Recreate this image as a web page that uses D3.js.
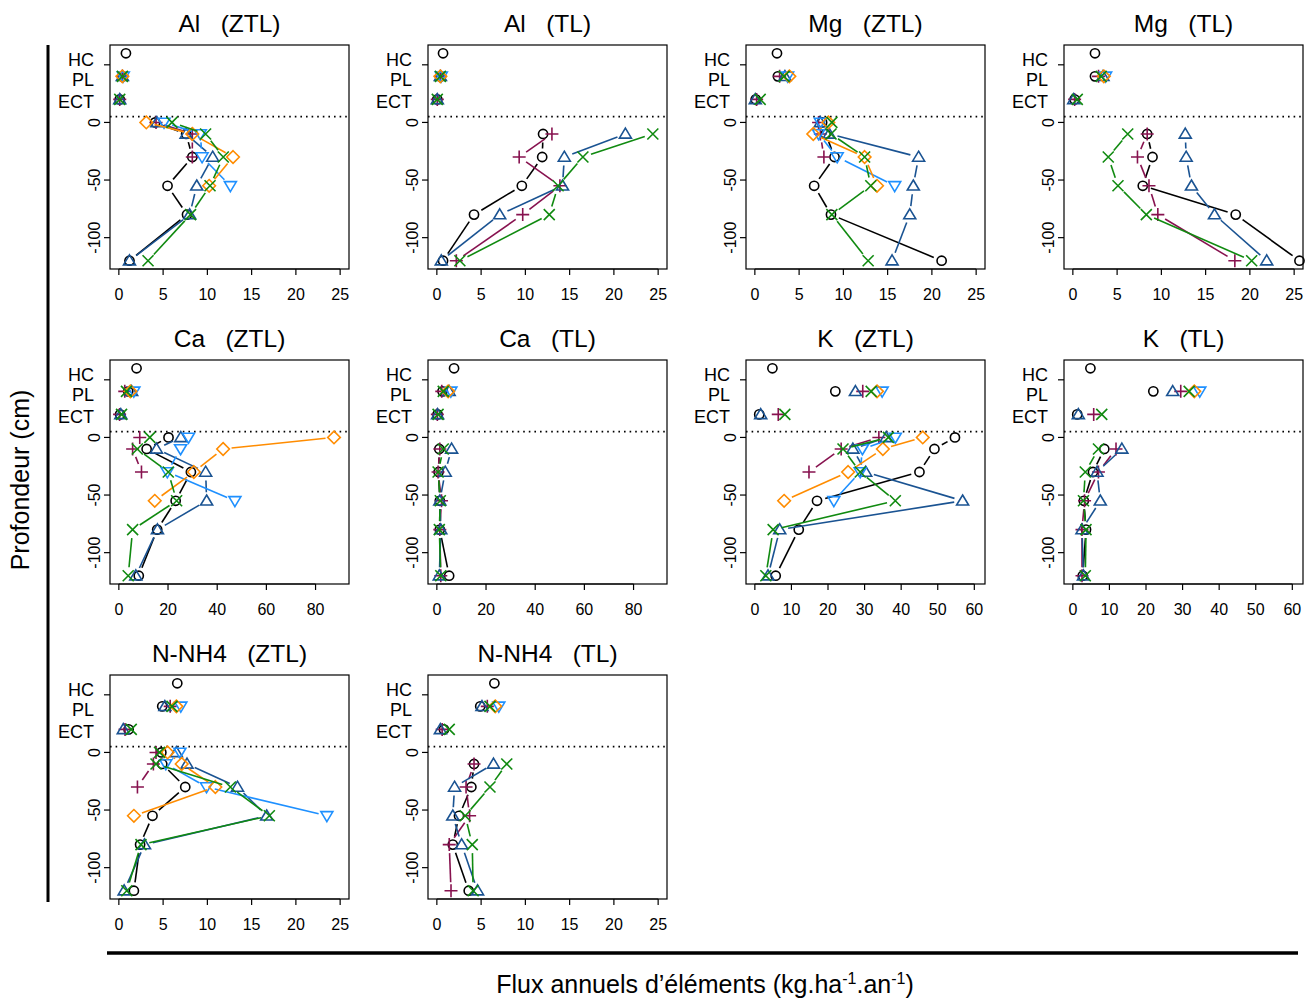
<!DOCTYPE html>
<meta charset="utf-8">
<head>
    <title>Flux annuels</title>
</head>
<style>
body { margin: 0; background: #fff; }
text { font-family: "Liberation Sans", Arial, sans-serif; fill: #000; }
.box { fill: none; stroke: #000; stroke-width: 1.2; }
.tick { stroke: #000; stroke-width: 1.2; }
.seg { fill: none; stroke-width: 1.6; }
.mark { fill: none; stroke-width: 1.6; }
</style>
<body>
<script src="https://cdn.jsdelivr.net/npm/d3@7"></script>
<script>

// depth levels (cm) for the soil profile, and the litter layers above
var depthLevels = [0, -10, -30, -55, -80, -120];
var layerNames = ["HC", "PL", "ECT"];
var layerDepths = [60, 40, 20];
var layerLabelDepths = [55, 37, 18];
var yTicks = [50, 0, -50, -100];
var yTickLabels = ["", "0", "-50", "-100"];

var ticks25 = [0, 5, 10, 15, 20, 25];
var ticks80 = [0, 20, 40, 60, 80];
var ticks60 = [0, 10, 20, 30, 40, 50, 60];

var seriesColors = ["#000000", "#87124f", "#1a5392", "#1e90ff", "#ff8c00", "#108a10"];
var seriesShapes = ["circle", "plus", "triangle", "triangleDown", "diamond", "cross"];

// each row : one series ; columns : HC, PL, ECT, 0, -10, -30, -55, -80, -120
var al_ZTL = [
  [0.8, 0.4, 0.1, 4.1, 7.6, 8.3, 5.5, 7.7, 1.2],
  [null, 0.4, 0.1, 4.2, 8.3, 8.3, null, null, null],
  [null, 0.4, 0.1, 4.3, 7.6, 10.6, 8.8, 8.0, 1.2],
  [null, 0.5, null, 5.1, 9.2, 9.4, 12.6, null, null],
  [null, 0.4, null, 3.1, 8.3, 12.9, 10.2, null, null],
  [null, 0.4, 0.1, 6.0, 9.8, 11.8, 10.3, 8.1, 3.3]
];
var al_TL = [
  [0.7, 0.4, 0.05, null, 12.0, 11.9, 9.6, 4.2, 0.7],
  [null, 0.4, 0.05, null, 13.0, 9.3, 13.9, 9.7, 2.2],
  [null, 0.4, 0.05, null, 21.3, 14.4, 14.2, 7.1, 0.5],
  [null, 0.5, null, null, null, null, null, null, null],
  [null, 0.4, null, null, null, null, null, null, null],
  [null, 0.4, 0.05, null, 24.4, 16.5, 13.7, 12.7, 2.6]
];
var mg_ZTL = [
  [2.5, 2.6, 0.1, 7.6, 8.0, 9.0, 6.7, 8.6, 21.1],
  [null, 2.8, 0.2, 7.2, 7.4, 7.8, null, null, null],
  [null, 3.4, 0.05, 7.4, 8.4, 18.5, 17.9, 17.5, 15.5],
  [null, 3.7, null, 7.4, 7.2, 9.3, 15.8, null, null],
  [null, 3.9, null, 8.3, 6.6, 12.4, 13.8, null, null],
  [null, 3.3, 0.6, 8.7, 8.6, 12.4, 13.1, 8.7, 12.8]
];
var mg_TL = [
  [2.5, 2.5, 0.2, null, 8.4, 9.0, 7.9, 18.4, 25.6],
  [null, 2.9, 0.2, null, 8.4, 7.3, 8.6, 9.6, 18.3],
  [null, 3.4, 0.1, null, 12.7, 12.8, 13.4, 16.0, 21.9],
  [null, 3.7, null, null, null, null, null, null, null],
  [null, 3.5, null, null, null, null, null, null, null],
  [null, 3.2, 0.5, null, 6.2, 4.0, 5.1, 8.3, 20.2]
];
var ca_ZTL = [
  [7.2, 3.8, 0.5, 20.2, 11.3, 29.3, 23.1, 15.6, 8.1],
  [null, 2.4, 0.3, 8.5, 5.6, 9.2, null, null, null],
  [null, 5.2, 0.8, 25.2, 15.3, 35.3, 35.7, 15.7, 6.9],
  [null, 6.1, null, 28.3, 25.1, 19.7, 47.2, null, null],
  [null, 4.7, null, 87.5, 42.4, 30.5, 14.6, null, null],
  [null, 3.1, 1.1, 12.6, 7.5, 20.1, 23.5, 5.6, 3.8]
];
var ca_TL = [
  [7.0, 2.3, 0.3, null, 1.0, 0.7, 1.2, 1.2, 5.0],
  [null, 2.0, 0.2, null, 1.2, 0.5, 1.9, 1.2, 1.6],
  [null, 5.0, 0.3, null, 6.0, 3.4, 1.2, 1.6, 1.0],
  [null, 5.7, null, null, null, null, null, null, null],
  [null, 4.6, null, null, null, null, null, null, null],
  [null, 2.6, 0.5, null, 2.6, 0.5, 1.4, 1.0, 1.6]
];
var k_ZTL = [
  [4.8, 22.0, 1.2, 54.7, 49.1, 45.0, 17.0, 12.0, 5.7],
  [null, 29.5, 6.4, 33.9, 23.6, 14.8, null, null, null],
  [null, 27.5, 1.6, 35.9, 26.8, 30.3, 56.8, 6.8, 3.6],
  [null, 34.8, null, 38.4, 29.4, 28.8, 21.6, null, null],
  [null, 33.4, null, 45.9, 35.0, 25.5, 8.0, null, null],
  [null, 31.8, 8.2, 36.5, 24.1, 28.8, 38.4, 5.0, 3.0]
];
var k_TL = [
  [4.8, 22.0, 1.2, null, 8.6, 5.5, 3.0, 3.6, 2.7],
  [null, 29.5, 5.7, null, 11.8, 7.0, 3.2, 2.5, 2.5],
  [null, 27.3, 1.5, null, 13.4, 6.6, 7.5, 2.5, 2.9],
  [null, 34.7, null, null, null, null, null, null, null],
  [null, 33.2, null, null, null, null, null, null, null],
  [null, 31.8, 7.9, null, 7.0, 3.4, 2.9, 3.6, 3.4]
];
var nh4_ZTL = [
  [6.6, 4.9, 1.1, 4.8, 4.9, 7.5, 3.8, 2.4, 1.7],
  [null, 5.8, 0.7, 4.2, 3.9, 2.1, null, null, null],
  [null, 5.2, 0.5, 6.5, 7.7, 13.4, 16.7, 2.9, 0.6],
  [null, 7.0, null, 6.9, 5.3, 9.9, 23.5, null, null],
  [null, 6.5, null, 5.5, 7.1, 10.9, 1.7, null, null],
  [null, 6.0, 1.4, 4.6, 4.2, 12.6, 17.0, 2.5, 0.9]
];
var nh4_TL = [
  [6.5, 4.9, 0.8, null, 4.2, 3.9, 2.5, 1.8, 3.6],
  [null, 5.7, 0.6, null, 4.2, 3.3, 3.7, 1.4, 1.6],
  [null, 5.1, 0.4, null, 6.4, 2.0, 1.8, 2.8, 4.6],
  [null, 7.0, null, null, null, null, null, null, null],
  [null, 6.6, null, null, null, null, null, null, null],
  [null, 6.0, 1.4, null, 7.9, 6.0, 3.2, 4.0, 4.1]
];

var panels = [
  {title: "Al   (ZTL)", data: al_ZTL, max: 25, ticks: ticks25},
  {title: "Al   (TL)", data: al_TL, max: 25, ticks: ticks25},
  {title: "Mg   (ZTL)", data: mg_ZTL, max: 25, ticks: ticks25},
  {title: "Mg   (TL)", data: mg_TL, max: 25, ticks: ticks25},
  {title: "Ca   (ZTL)", data: ca_ZTL, max: 90, ticks: ticks80},
  {title: "Ca   (TL)", data: ca_TL, max: 90, ticks: ticks80},
  {title: "K   (ZTL)", data: k_ZTL, max: 60.5, ticks: ticks60},
  {title: "K   (TL)", data: k_TL, max: 60.5, ticks: ticks60},
  {title: "N-NH4   (ZTL)", data: nh4_ZTL, max: 25, ticks: ticks25},
  {title: "N-NH4   (TL)", data: nh4_TL, max: 25, ticks: ticks25}
];

var W = 1313, H = 1001;
var boxW = 239, boxH = 224;
var colX = [110, 428, 746, 1064];
var rowY = [45, 360, 675];
var gap = 8.5;

var svg = d3.select("body").append("svg")
    .attr("width", W)
    .attr("height", H);

function symbolPath(shape) {
  switch (shape) {
    case "circle": return "M4.6,0A4.6,4.6 0 1,1 -4.6,0A4.6,4.6 0 1,1 4.6,0Z";
    case "plus": return "M-6.5,0H6.5M0,-6.5V6.5";
    case "triangle": return "M0,-5.8L6,4.2L-6,4.2Z";
    case "triangleDown": return "M0,5.8L6,-4.2L-6,-4.2Z";
    case "diamond": return "M0,-6.3L6.3,0L0,6.3L-6.3,0Z";
    case "cross": return "M-5.5,-5.5L5.5,5.5M5.5,-5.5L-5.5,5.5";
  }
}

panels.forEach(function(p, i) {
  var left = colX[i % 4], top = rowY[Math.floor(i / 4)];
  var pad = p.max * 0.04;

  var x = d3.scaleLinear()
      .domain([-pad, p.max + pad])
      .range([left, left + boxW]);

  var y = d3.scaleLinear()
      .domain([-127.2, 67.2])
      .range([top + boxH, top]);

  var g = svg.append("g");

  // title
  g.append("text")
      .attr("x", left + boxW / 2)
      .attr("y", top - 13)
      .attr("text-anchor", "middle")
      .style("font-size", "24.5px")
      .style("white-space", "pre")
      .text(p.title);

  g.append("rect")
      .attr("class", "box")
      .attr("x", left)
      .attr("y", top)
      .attr("width", boxW)
      .attr("height", boxH);

  // x axis
  var xAxis = g.append("g")
      .attr("transform", "translate(0," + (top + boxH) + ")");
  xAxis.append("line")
      .attr("class", "tick")
      .attr("x1", x(p.ticks[0]))
      .attr("x2", x(p.ticks[p.ticks.length - 1]));
  p.ticks.forEach(function(t) {
    xAxis.append("line")
        .attr("class", "tick")
        .attr("x1", x(t)).attr("x2", x(t))
        .attr("y1", 0).attr("y2", 6);
    xAxis.append("text")
        .attr("x", x(t))
        .attr("y", 31)
        .attr("text-anchor", "middle")
        .style("font-size", "16px")
        .text(t);
  });

  // y axis
  yTicks.forEach(function(t, k) {
    g.append("line")
        .attr("class", "tick")
        .attr("x1", left - 6).attr("x2", left)
        .attr("y1", y(t)).attr("y2", y(t));
    g.append("text")
        .attr("transform", "translate(" + (left - 10) + "," + y(t) + ") rotate(-90)")
        .attr("text-anchor", "middle")
        .style("font-size", "16px")
        .text(yTickLabels[k]);
  });

  // litter layer labels
  layerNames.forEach(function(name, k) {
    g.append("text")
        .attr("x", left - 16)
        .attr("y", y(layerLabelDepths[k]) + 6.5)
        .attr("text-anchor", "end")
        .style("font-size", "18px")
        .text(name);
  });

  // soil surface
  g.append("line")
      .attr("x1", left).attr("x2", left + boxW)
      .attr("y1", y(5)).attr("y2", y(5))
      .style("stroke", "#000")
      .style("stroke-width", 1.6)
      .style("stroke-dasharray", "1.6,4");

  p.data.forEach(function(row, s) {
    var color = seriesColors[s];
    var layerPts = [], profPts = [];
    for (var k = 0; k < 3; k++) {
      if (row[k] != null) layerPts.push([x(row[k]), y(layerDepths[k])]);
    }
    for (var k = 0; k < depthLevels.length; k++) {
      var v = row[k + 3];
      profPts.push(v == null ? null : [x(v), y(depthLevels[k])]);
    }

    // lines with a gap around each point (type "b")
    for (var k = 0; k < profPts.length - 1; k++) {
      var a = profPts[k], b = profPts[k + 1];
      if (!a || !b) continue;
      var dx = b[0] - a[0], dy = b[1] - a[1];
      var len = Math.sqrt(dx * dx + dy * dy);
      if (len <= 2 * gap) continue;
      var ux = dx / len, uy = dy / len;
      g.append("line")
          .attr("class", "seg")
          .attr("x1", a[0] + ux * gap).attr("y1", a[1] + uy * gap)
          .attr("x2", b[0] - ux * gap).attr("y2", b[1] - uy * gap)
          .style("stroke", color);
    }

    var pts = layerPts.concat(profPts.filter(function(d) { return d; }));
    g.selectAll(null)
        .data(pts)
      .enter().append("path")
        .attr("class", "mark")
        .attr("transform", function(d) { return "translate(" + d[0] + "," + d[1] + ")"; })
        .attr("d", symbolPath(seriesShapes[s]))
        .style("stroke", color);
  });
});

// global axis titles
svg.append("line")
    .attr("x1", 48).attr("x2", 48)
    .attr("y1", 45).attr("y2", 902)
    .style("stroke", "#000")
    .style("stroke-width", 3);

svg.append("text")
    .attr("transform", "translate(29,480) rotate(-90)")
    .attr("text-anchor", "middle")
    .style("font-size", "25px")
    .text("Profondeur (cm)");

svg.append("line")
    .attr("x1", 107).attr("x2", 1298)
    .attr("y1", 953).attr("y2", 953)
    .style("stroke", "#000")
    .style("stroke-width", 3.5);

var xt = svg.append("text")
    .attr("x", 705)
    .attr("y", 993)
    .attr("text-anchor", "middle")
    .style("font-size", "25px");
xt.append("tspan").text("Flux annuels d\u2019\u00e9l\u00e9ments (kg.ha");
xt.append("tspan").attr("dy", -9).style("font-size", "16px").text("-1");
xt.append("tspan").attr("dy", 9).text(".an");
xt.append("tspan").attr("dy", -9).style("font-size", "16px").text("-1");
xt.append("tspan").attr("dy", 9).text(")");

</script>
</body>
